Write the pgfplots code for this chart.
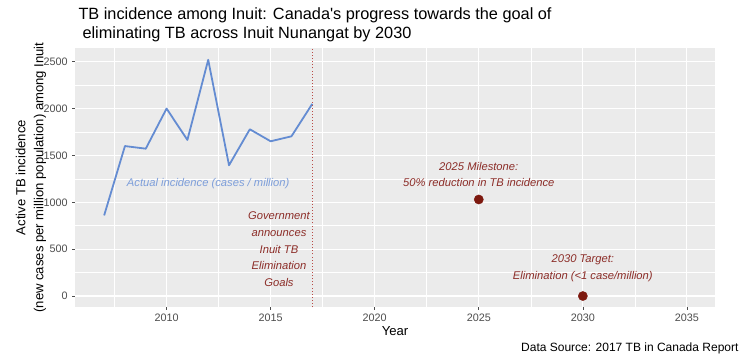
\documentclass[border=0pt]{standalone}
\usepackage{pgfplots}
\pgfplotsset{compat=1.18}
\usepackage{fontspec}
\setmainfont{Liberation Sans}
\newfontfamily\plainquote{Liberation Sans}[Ligatures=ResetAll]
\definecolor{panel}{RGB}{235,235,235}
\definecolor{tickgray}{RGB}{77,77,77}
\definecolor{lineblue}{RGB}{100,140,210}
\definecolor{textblue}{RGB}{125,158,218}
\definecolor{ptred}{RGB}{125,25,15}
\definecolor{annred}{RGB}{140,45,40}
\definecolor{vred}{RGB}{185,75,70}
\begin{document}
\begin{tikzpicture}[x=1pt,y=1pt]
\useasboundingbox[fill=white] (-75,-53) rectangle (675,307);
\begin{axis}[
  at={(0,0)}, anchor=south west, scale only axis,
  width=640pt, height=259pt,
  xmin=2005.6, xmax=2036.35, ymin=-117, ymax=2646,
  xtick={2010,2015,2020,2025,2030,2035},
  ytick={0,500,1000,1500,2000,2500},
  minor xtick={2007.5,2012.5,2017.5,2022.5,2027.5,2032.5},
  minor ytick={250,750,1250,1750,2250},
  grid=both,
  major grid style={white, line width=1.1pt},
  minor grid style={white, line width=0.55pt},
  axis background/.style={fill=panel},
  axis line style={draw=none},
  tick align=outside,
  xtick pos=lower, ytick pos=left,
  major tick length=2.75pt, minor tick length=0pt,
  tick style={tickgray, line width=0.6pt},
  /pgf/number format/assume math mode=true,
  /pgf/number format/1000 sep={},
  ticklabel style={font=\fontsize{10.8}{12}\selectfont, text=tickgray},
  xticklabel style={yshift=-1pt},
  yticklabel style={xshift=-1pt},
  clip=false,
]
\addplot[lineblue, line width=1.8pt, line join=round] coordinates {
 (2007,860) (2008,1600) (2009,1572) (2010,2000) (2011,1665) (2012,2520)
 (2013,1395) (2014,1779) (2015,1651) (2016,1704) (2017,2050)};
\addplot[vred, line width=1pt, dash pattern=on 0.9pt off 2.2pt] coordinates {(2017,-117) (2017,2646)};
\addplot[only marks, mark=*, mark size=4.6pt, ptred, mark options={fill=ptred}] coordinates {(2025,1030) (2030,0)};
\node[text=textblue, font=\fontsize{11.2}{13}\selectfont\itshape] at (axis cs:2012,1195) {Actual incidence (cases / million)};
\node[text=annred, anchor=east, align=center, font=\fontsize{11.2}{16.6}\selectfont\itshape] at (axis cs:2017.05,500) {Government\\announces\\Inuit TB\\Elimination\\Goals};
\node[text=annred, align=center, font=\fontsize{11.2}{16.6}\selectfont\itshape] at (axis cs:2025,1298) {2025 Milestone:\\50\% reduction in TB incidence};
\node[text=annred, align=center, font=\fontsize{11.2}{16.6}\selectfont\itshape] at (axis cs:2030,295) {2030 Target:\\Elimination (<1 case/million)};
\end{axis}
\node[font=\fontsize{13.1}{15}\selectfont] at (320,-24) {Year};
\node[rotate=90, align=center, font=\fontsize{13.1}{18}\selectfont] at (-44,129.5) {Active TB incidence\\(new cases per million population) among Inuit};
\node[anchor=west, align=left, font=\fontsize{16.3}{19}\selectfont] at (0,282.5) {TB incidence among Inuit: Canada{\plainquote'}s progress towards the goal of\\\hspace*{4pt}eliminating TB across Inuit Nunangat by 2030};
\node[anchor=east, font=\fontsize{12}{14}\selectfont] at (667,-41) {Data Source: 2017 TB in Canada Report};
\end{tikzpicture}
\end{document}
